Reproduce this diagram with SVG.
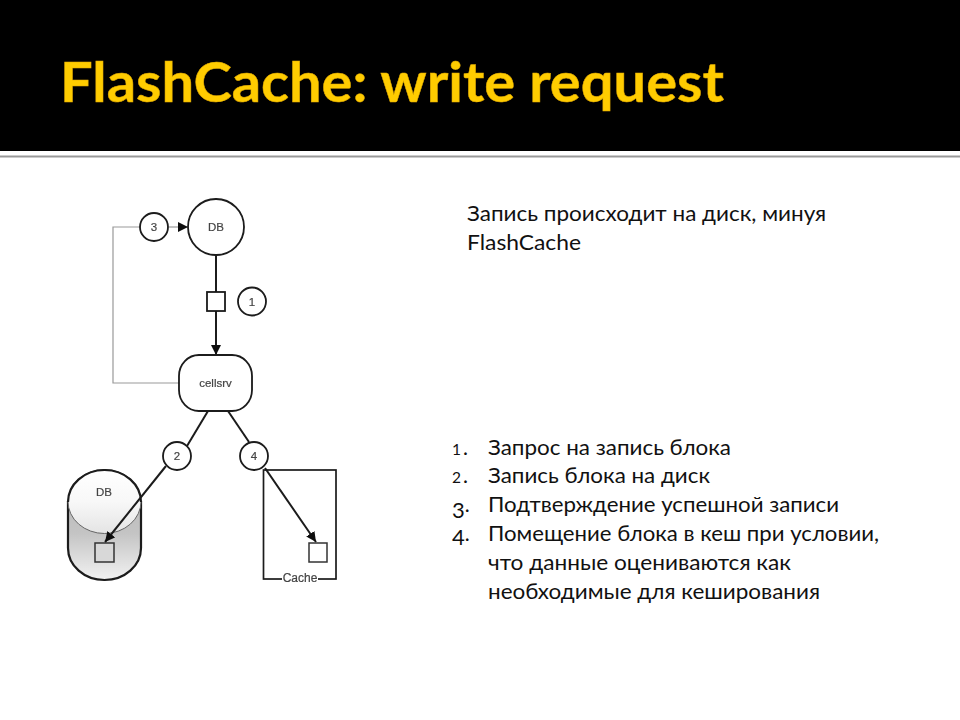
<svg xmlns="http://www.w3.org/2000/svg" width="960" height="720" viewBox="0 0 960 720">
<style>
.d{font-family:"Liberation Sans",Arial,sans-serif;font-size:11.500px;fill:#444;stroke:#444;stroke-width:.2;text-anchor:middle}
.s{fill:#fff;stroke:#1a1a1a;stroke-width:1.800}
.l{fill:none;stroke:#1a1a1a;stroke-width:2}
.g{fill:none;stroke:#999;stroke-width:1.200}
.b{font-family:"Lato","Open Sans",sans-serif;font-size:21px;fill:#111}
</style>
<defs>
<marker id="a" markerWidth="11" markerHeight="11" refX="10" refY="5" orient="auto" markerUnits="userSpaceOnUse"><path d="M0 0L10 5L0 10z" fill="#111"/></marker>
<linearGradient id="top" x1="0" y1="0" x2="0" y2="1"><stop offset="0" stop-color="#fff"/><stop offset=".5" stop-color="#f8f8f8"/><stop offset="1" stop-color="#e4e4e4"/></linearGradient>
<linearGradient id="body" x1="0" y1="0" x2="0" y2="1"><stop offset="0" stop-color="#bcbcbc"/><stop offset=".4" stop-color="#c4c4c4"/><stop offset="1" stop-color="#f2f2f2"/></linearGradient>
<filter id="blur" x="-5%" y="-5%" width="110%" height="110%"><feGaussianBlur stdDeviation="0.4"/></filter>
</defs>
<rect width="960" height="720" fill="#fff"/>
<rect id="header" width="960" height="151" fill="#000"/>
<rect y="155.500" width="960" height="2" fill="#999"/>
<text id="title" x="60" y="102" font-family="Lato,'Open Sans',sans-serif" font-weight="700" font-size="55" fill="#fc0" stroke="#e0a800" stroke-width=".5" textLength="664" lengthAdjust="spacingAndGlyphs" filter="url(#blur)">FlashCache: write request</text>
<g filter="url(#blur)">
<g id="connectors">
<path class="g" d="M140 227H113V383H179"/>
<path class="g" d="M169 227H188" marker-end="url(#a)"/>
<path class="l" d="M216 255V355" marker-end="url(#a)"/>
<path class="l" d="M208 411L187 446"/>
<path class="l" d="M228 411L249 442"/>
</g>
<g id="db-cylinder">
<path d="M68 502V548A36.500 32 0 0 0 141 548V502z" fill="url(#body)" stroke="#1a1a1a" stroke-width="2.200"/>
<ellipse cx="104.500" cy="501.500" rx="36.500" ry="32" fill="url(#top)" stroke="#666" stroke-width="1"/>
<path d="M68 502A36.500 32 0 0 1 141 502" fill="none" stroke="#1a1a1a" stroke-width="2.200"/>
<text class="d" x="104" y="496">DB</text>
<rect x="95" y="543" width="19" height="19" fill="#d8d8d8" stroke="#333" stroke-width="1.500"/>
</g>
<g id="cache">
<rect x="263.500" y="470" width="72.500" height="109" fill="#fff" stroke="#1a1a1a" stroke-width="1.700"/>
<rect x="282" y="574" width="36" height="10" fill="#fff"/>
<text class="d" x="300" y="582" style="font-size:12px">Cache</text>
<rect x="309" y="543" width="18" height="19" fill="#fff" stroke="#333" stroke-width="1.500"/>
</g>
<g id="node-db"><circle class="s" cx="216" cy="227" r="28"/><text class="d" x="216" y="231">DB</text></g>
<g id="node-3"><circle class="s" cx="154" cy="227" r="14"/><text class="d" x="154" y="231">3</text></g>
<g id="node-block"><rect class="s" x="207" y="292" width="18" height="19"/></g>
<g id="node-1"><circle class="s" cx="252" cy="301.500" r="14"/><text class="d" x="252" y="305.500">1</text></g>
<g id="node-cellsrv"><rect class="s" x="179" y="355" width="73" height="56" rx="20" ry="21"/><text class="d" x="215.500" y="387">cellsrv</text></g>
<g id="node-2"><circle class="s" cx="177" cy="456" r="14"/><text class="d" x="177" y="460">2</text></g>
<g id="node-4"><circle class="s" cx="254" cy="456" r="14"/><text class="d" x="254" y="460">4</text></g>
<g id="arrows">
<path class="l" d="M166 466L105 542" marker-end="url(#a)"/>
<path class="l" d="M265 468L316 542" marker-end="url(#a)"/>
</g>
</g>
<g id="note">
<text class="b" x="467" y="221" textLength="359" lengthAdjust="spacingAndGlyphs">Запись происходит на диск, минуя</text>
<text class="b" x="467" y="250" textLength="114" lengthAdjust="spacingAndGlyphs">FlashCache</text>
</g>
<g id="list">
<text class="b" x="452" y="454.500"><tspan font-size="15.500">1</tspan><tspan dx="2">.</tspan></text>
<text class="b" x="488" y="454.500" textLength="243" lengthAdjust="spacingAndGlyphs">Запрос на запись блока</text>
<text class="b" x="452" y="483"><tspan font-size="15.500">2</tspan><tspan dx="2">.</tspan></text>
<text class="b" x="488" y="483" textLength="222" lengthAdjust="spacingAndGlyphs">Запись блока на диск</text>
<text class="b" x="452" y="512"><tspan font-size="22" dy="6">3</tspan><tspan dy="-6">.</tspan></text>
<text class="b" x="488" y="512" textLength="351" lengthAdjust="spacingAndGlyphs">Подтверждение успешной записи</text>
<text class="b" x="452" y="541"><tspan font-size="22" dy="4">4</tspan><tspan dy="-4">.</tspan></text>
<text class="b" x="488" y="541" textLength="391" lengthAdjust="spacingAndGlyphs">Помещение блока в кеш при условии,</text>
<text class="b" x="488" y="570" textLength="303" lengthAdjust="spacingAndGlyphs">что данные оцениваются как</text>
<text class="b" x="488" y="599" textLength="332" lengthAdjust="spacingAndGlyphs">необходимые для кеширования</text>
</g>
</svg>
